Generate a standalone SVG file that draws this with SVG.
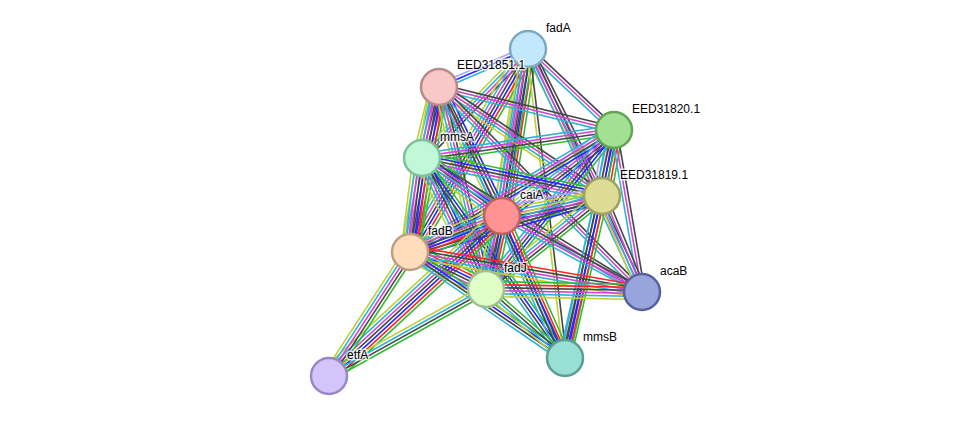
<svg xmlns="http://www.w3.org/2000/svg" width="975" height="422" viewBox="0 0 975 422">
<style>
path{fill:none;stroke-width:1.6}
.g{stroke:#33bb33}.r{stroke:#ff2424}.b{stroke:#2626ff}.k{stroke:#474747}.m{stroke:#d444d4}.c{stroke:#2fb3d6}.y{stroke:#bdd13a}.h{stroke:#a6a6ff}
circle{stroke-width:2.5}
text{font-family:"Liberation Sans",Arial,sans-serif;font-size:12px;fill:#000;stroke:#fff;stroke-width:3;stroke-opacity:0.75;paint-order:stroke;stroke-linejoin:round}
</style>
<rect width="975" height="422" fill="#fff"/>
<g id="edges">
<g transform="translate(528 49) rotate(156.9)"><path class="c" d="M0-3H96.8"/><path class="b" d="M0 0H96.8"/><path class="h" d="M0 3H96.8"/></g>
<g transform="translate(528 49) rotate(43.3)"><path class="k" d="M0-3H118.1"/><path class="m" d="M0 0H118.1"/><path class="c" d="M0 3H118.1"/></g>
<g transform="translate(528 49) rotate(134.2)"><path class="k" d="M0-4.5H152"/><path class="m" d="M0-1.5H152"/><path class="c" d="M0 1.5H152"/><path class="y" d="M0 4.5H152"/></g>
<g transform="translate(528 49) rotate(63.3)"><path class="k" d="M0-4.5H164.6"/><path class="m" d="M0-1.5H164.6"/><path class="c" d="M0 1.5H164.6"/><path class="y" d="M0 4.5H164.6"/></g>
<g transform="translate(528 49) rotate(98.85)"><path class="g" d="M0-9H169"/><path class="r" d="M0-6H169"/><path class="b" d="M0-3H169"/><path class="k" d="M0 0H169"/><path class="m" d="M0 3H169"/><path class="c" d="M0 6H169"/><path class="y" d="M0 9H169"/></g>
<g transform="translate(528 49) rotate(120.2)"><path class="g" d="M0-9H234.8"/><path class="r" d="M0-6H234.8"/><path class="b" d="M0-3H234.8"/><path class="k" d="M0 0H234.8"/><path class="m" d="M0 3H234.8"/><path class="c" d="M0 6H234.8"/><path class="y" d="M0 9H234.8"/></g>
<g transform="translate(528 49) rotate(99.93)"><path class="g" d="M0-6H243.6"/><path class="k" d="M0-3H243.6"/><path class="m" d="M0 0H243.6"/><path class="c" d="M0 3H243.6"/><path class="y" d="M0 6H243.6"/></g>
<g transform="translate(528 49) rotate(64.87)"><path class="k" d="M0-3H268.4"/><path class="m" d="M0 0H268.4"/><path class="c" d="M0 3H268.4"/></g>
<g transform="translate(528 49) rotate(83.17)"><path class="k" d="M0-1.5H311.2"/><path class="y" d="M0 1.5H311.2"/></g>
<g transform="translate(439 87) rotate(13.8)"><path class="k" d="M0-3H180.2"/><path class="m" d="M0 0H180.2"/><path class="c" d="M0 3H180.2"/></g>
<g transform="translate(439 87) rotate(103.5)"><path class="g" d="M0-9H73"/><path class="r" d="M0-6H73"/><path class="b" d="M0-3H73"/><path class="k" d="M0 0H73"/><path class="m" d="M0 3H73"/><path class="c" d="M0 6H73"/><path class="y" d="M0 9H73"/></g>
<g transform="translate(439 87) rotate(33.77)"><path class="k" d="M0-4.5H196.1"/><path class="m" d="M0-1.5H196.1"/><path class="c" d="M0 1.5H196.1"/><path class="y" d="M0 4.5H196.1"/></g>
<g transform="translate(439 87) rotate(63.97)"><path class="b" d="M0-6H143.6"/><path class="k" d="M0-3H143.6"/><path class="m" d="M0 0H143.6"/><path class="c" d="M0 3H143.6"/><path class="y" d="M0 6H143.6"/></g>
<g transform="translate(439 87) rotate(99.97)"><path class="g" d="M0-9H167.5"/><path class="r" d="M0-6H167.5"/><path class="b" d="M0-3H167.5"/><path class="k" d="M0 0H167.5"/><path class="m" d="M0 3H167.5"/><path class="c" d="M0 6H167.5"/><path class="y" d="M0 9H167.5"/></g>
<g transform="translate(439 87) rotate(76.9)"><path class="k" d="M0-4.5H207.4"/><path class="m" d="M0-1.5H207.4"/><path class="c" d="M0 1.5H207.4"/><path class="y" d="M0 4.5H207.4"/></g>
<g transform="translate(439 87) rotate(45.28)"><path class="k" d="M0-3H288.5"/><path class="m" d="M0 0H288.5"/><path class="c" d="M0 3H288.5"/></g>
<g transform="translate(439 87) rotate(65.06)"><path class="k" d="M0-1.5H298.9"/><path class="c" d="M0 1.5H298.9"/></g>
<g transform="translate(614 130) rotate(171.7)"><path class="g" d="M0-4.5H194"/><path class="k" d="M0-1.5H194"/><path class="m" d="M0 1.5H194"/><path class="c" d="M0 4.5H194"/></g>
<g transform="translate(614 130) rotate(100.3)"><path class="g" d="M0-9H67.1"/><path class="r" d="M0-6H67.1"/><path class="b" d="M0-3H67.1"/><path class="k" d="M0 0H67.1"/><path class="m" d="M0 3H67.1"/><path class="c" d="M0 6H67.1"/><path class="h" d="M0 9H67.1"/></g>
<g transform="translate(614 130) rotate(142.5)"><path class="b" d="M0-7.5H141.2"/><path class="k" d="M0-4.5H141.2"/><path class="m" d="M0-1.5H141.2"/><path class="c" d="M0 1.5H141.2"/><path class="y" d="M0 4.5H141.2"/><path class="h" d="M0 7.5H141.2"/></g>
<g transform="translate(614 130) rotate(149.1)"><path class="b" d="M0-4.5H237.7"/><path class="k" d="M0-1.5H237.7"/><path class="m" d="M0 1.5H237.7"/><path class="c" d="M0 4.5H237.7"/></g>
<g transform="translate(614 130) rotate(128.83)"><path class="g" d="M0-6H204.1"/><path class="b" d="M0-3H204.1"/><path class="k" d="M0 0H204.1"/><path class="m" d="M0 3H204.1"/><path class="c" d="M0 6H204.1"/></g>
<g transform="translate(614 130) rotate(80.2)"><path class="k" d="M0-3H164.4"/><path class="m" d="M0 0H164.4"/><path class="c" d="M0 3H164.4"/></g>
<g transform="translate(614 130) rotate(102.13)"><path class="g" d="M0-4.5H233.2"/><path class="b" d="M0-1.5H233.2"/><path class="k" d="M0 1.5H233.2"/><path class="c" d="M0 4.5H233.2"/></g>
<g transform="translate(422 158) rotate(11.92)"><path class="g" d="M0-6H184"/><path class="b" d="M0-3H184"/><path class="k" d="M0 0H184"/><path class="m" d="M0 3H184"/><path class="c" d="M0 6H184"/></g>
<g transform="translate(422 158) rotate(35.94)"><path class="g" d="M0-7.5H98.8"/><path class="b" d="M0-4.5H98.8"/><path class="k" d="M0-1.5H98.8"/><path class="m" d="M0 1.5H98.8"/><path class="c" d="M0 4.5H98.8"/><path class="y" d="M0 7.5H98.8"/></g>
<g transform="translate(422 158) rotate(97.27)"><path class="g" d="M0-9H94.8"/><path class="r" d="M0-6H94.8"/><path class="b" d="M0-3H94.8"/><path class="k" d="M0 0H94.8"/><path class="m" d="M0 3H94.8"/><path class="c" d="M0 6H94.8"/><path class="y" d="M0 9H94.8"/></g>
<g transform="translate(422 158) rotate(63.96)"><path class="g" d="M0-7.5H145.8"/><path class="b" d="M0-4.5H145.8"/><path class="k" d="M0-1.5H145.8"/><path class="m" d="M0 1.5H145.8"/><path class="c" d="M0 4.5H145.8"/><path class="y" d="M0 7.5H145.8"/></g>
<g transform="translate(422 158) rotate(31.35)"><path class="k" d="M0-3H257.6"/><path class="m" d="M0 0H257.6"/><path class="c" d="M0 3H257.6"/></g>
<g transform="translate(422 158) rotate(54.44)"><path class="g" d="M0-4.5H245.9"/><path class="b" d="M0-1.5H245.9"/><path class="k" d="M0 1.5H245.9"/><path class="c" d="M0 4.5H245.9"/></g>
<g transform="translate(602 196) rotate(168.69)"><path class="g" d="M0-9H102"/><path class="b" d="M0-6H102"/><path class="k" d="M0-3H102"/><path class="m" d="M0 0H102"/><path class="c" d="M0 3H102"/><path class="y" d="M0 6H102"/><path class="h" d="M0 9H102"/></g>
<g transform="translate(602 196) rotate(163.74)"><path class="b" d="M0-6H200"/><path class="k" d="M0-3H200"/><path class="m" d="M0 0H200"/><path class="c" d="M0 3H200"/><path class="y" d="M0 6H200"/></g>
<g transform="translate(602 196) rotate(141.28)"><path class="g" d="M0-6H148.7"/><path class="k" d="M0-3H148.7"/><path class="m" d="M0 0H148.7"/><path class="c" d="M0 3H148.7"/><path class="y" d="M0 6H148.7"/></g>
<g transform="translate(602 196) rotate(67.38)"><path class="k" d="M0-4.5H104"/><path class="m" d="M0-1.5H104"/><path class="c" d="M0 1.5H104"/><path class="y" d="M0 4.5H104"/></g>
<g transform="translate(602 196) rotate(102.87)"><path class="g" d="M0-6H166.2"/><path class="r" d="M0-3H166.2"/><path class="b" d="M0 0H166.2"/><path class="k" d="M0 3H166.2"/><path class="c" d="M0 6H166.2"/></g>
<g transform="translate(502 216) rotate(158.63)"><path class="g" d="M0-9H98.8"/><path class="r" d="M0-6H98.8"/><path class="b" d="M0-3H98.8"/><path class="k" d="M0 0H98.8"/><path class="m" d="M0 3H98.8"/><path class="c" d="M0 6H98.8"/><path class="y" d="M0 9H98.8"/></g>
<g transform="translate(502 216) rotate(102.36)"><path class="g" d="M0-9H74.7"/><path class="r" d="M0-6H74.7"/><path class="b" d="M0-3H74.7"/><path class="k" d="M0 0H74.7"/><path class="m" d="M0 3H74.7"/><path class="c" d="M0 6H74.7"/><path class="y" d="M0 9H74.7"/></g>
<g transform="translate(502 216) rotate(28.5)"><path class="k" d="M0-3H159.3"/><path class="m" d="M0 0H159.3"/><path class="c" d="M0 3H159.3"/></g>
<g transform="translate(502 216) rotate(66.08)"><path class="g" d="M0-6H155.3"/><path class="r" d="M0-3H155.3"/><path class="b" d="M0 0H155.3"/><path class="k" d="M0 3H155.3"/><path class="c" d="M0 6H155.3"/></g>
<g transform="translate(502 216) rotate(137.24)"><path class="g" d="M0-9H235.6"/><path class="r" d="M0-6H235.6"/><path class="b" d="M0-3H235.6"/><path class="k" d="M0 0H235.6"/><path class="m" d="M0 3H235.6"/><path class="c" d="M0 6H235.6"/><path class="y" d="M0 9H235.6"/></g>
<g transform="translate(410 252) rotate(25.96)"><path class="g" d="M0-9H84.5"/><path class="r" d="M0-6H84.5"/><path class="b" d="M0-3H84.5"/><path class="k" d="M0 0H84.5"/><path class="m" d="M0 3H84.5"/><path class="c" d="M0 6H84.5"/><path class="y" d="M0 9H84.5"/></g>
<g transform="translate(410 252) rotate(9.78)"><path class="r" d="M0-6H235.4"/><path class="k" d="M0-3H235.4"/><path class="m" d="M0 0H235.4"/><path class="c" d="M0 3H235.4"/><path class="y" d="M0 6H235.4"/></g>
<g transform="translate(410 252) rotate(34.37)"><path class="g" d="M0-4.5H187.8"/><path class="b" d="M0-1.5H187.8"/><path class="k" d="M0 1.5H187.8"/><path class="c" d="M0 4.5H187.8"/></g>
<g transform="translate(410 252) rotate(123.15)"><path class="g" d="M0-6H148.1"/><path class="k" d="M0-3H148.1"/><path class="m" d="M0 0H148.1"/><path class="c" d="M0 3H148.1"/><path class="y" d="M0 6H148.1"/></g>
<g transform="translate(486 289) rotate(1.1)"><path class="g" d="M0-7.5H156"/><path class="r" d="M0-4.5H156"/><path class="k" d="M0-1.5H156"/><path class="m" d="M0 1.5H156"/><path class="c" d="M0 4.5H156"/><path class="y" d="M0 7.5H156"/></g>
<g transform="translate(486 289) rotate(41.13)"><path class="g" d="M0-4.5H104.9"/><path class="k" d="M0-1.5H104.9"/><path class="c" d="M0 1.5H104.9"/><path class="y" d="M0 4.5H104.9"/></g>
<g transform="translate(486 289) rotate(151)"><path class="g" d="M0-4.5H179.5"/><path class="k" d="M0-1.5H179.5"/><path class="c" d="M0 1.5H179.5"/><path class="y" d="M0 4.5H179.5"/></g>
</g>
<g id="node-fadA"><circle cx="528" cy="49" r="18" fill="#c1e8fc" stroke="#7fa9c2"/><text x="546" y="32">fadA</text></g>
<g id="node-EED31851.1"><circle cx="439" cy="87" r="18" fill="#f8c8c8" stroke="#b88a8a"/><text x="457" y="69">EED31851.1</text></g>
<g id="node-EED31820.1"><circle cx="614" cy="130" r="18" fill="#a2e094" stroke="#62a452"/><text x="632" y="113">EED31820.1</text></g>
<g id="node-mmsA"><circle cx="422" cy="158" r="18" fill="#c0f8d8" stroke="#80c09a"/><text x="440" y="141">mmsA</text></g>
<g id="node-EED31819.1"><circle cx="602" cy="196" r="18" fill="#dcdc96" stroke="#a0a060"/><text x="620" y="179">EED31819.1</text></g>
<g id="node-caiA"><circle cx="502" cy="216" r="18" fill="#ff9292" stroke="#c06060"/><text x="520" y="199">caiA</text></g>
<g id="node-fadB"><circle cx="410" cy="252" r="18" fill="#fedcbc" stroke="#bda080"/><text x="428" y="235">fadB</text></g>
<g id="node-fadJ"><circle cx="486" cy="289" r="18" fill="#e0ffc8" stroke="#a2c090"/><text x="504" y="272">fadJ</text></g>
<g id="node-acaB"><circle cx="642" cy="292" r="18" fill="#98a4dc" stroke="#58629e"/><text x="660" y="275">acaB</text></g>
<g id="node-mmsB"><circle cx="565" cy="358" r="18" fill="#98e0d4" stroke="#5a9e96"/><text x="583" y="341">mmsB</text></g>
<g id="node-etfA"><circle cx="329" cy="376" r="18" fill="#d4c4fc" stroke="#9888c6"/><text x="347" y="359">etfA</text></g>
</svg>
